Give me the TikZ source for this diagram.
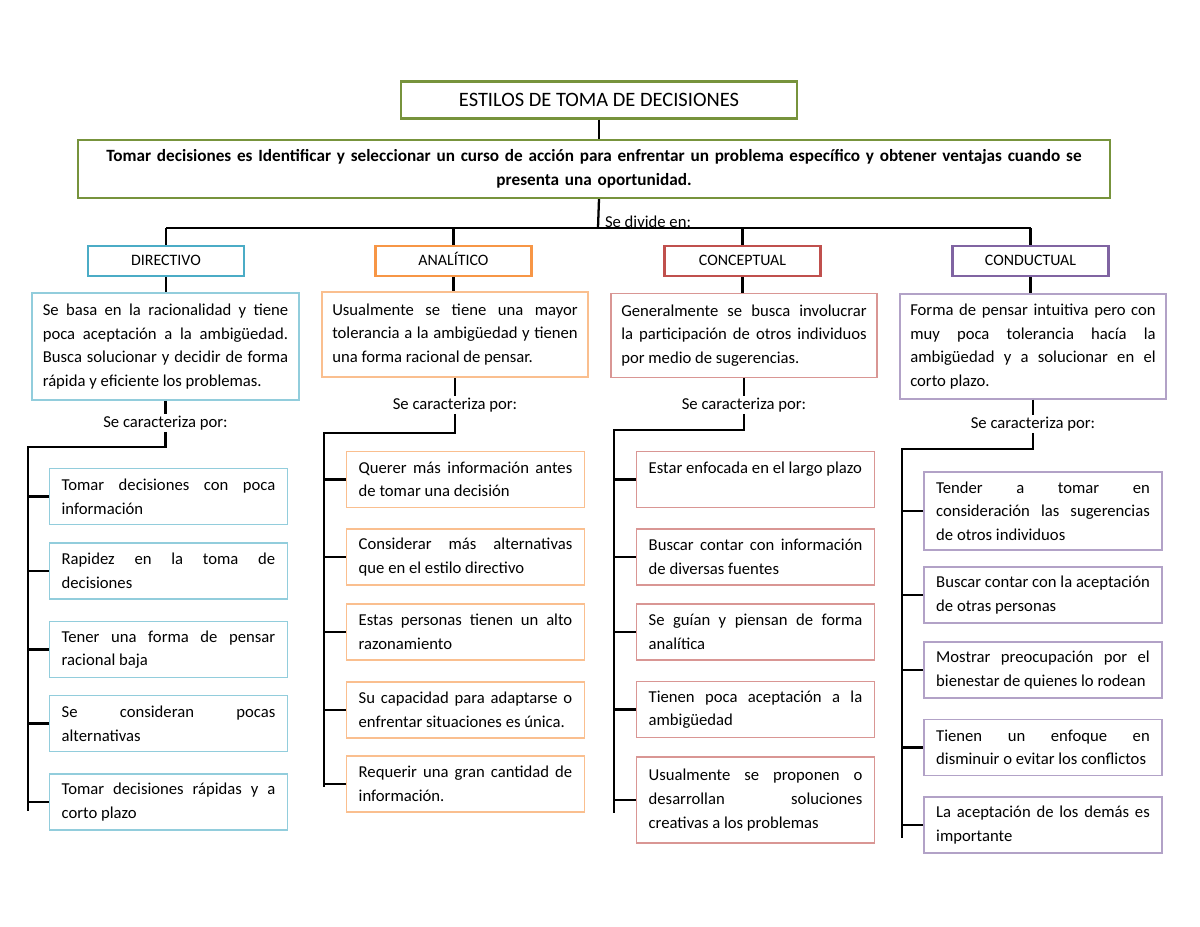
\documentclass[tikz,border=0pt]{standalone}
\usepackage{fontspec}
\setmainfont{Carlito}
\usepackage{tikz}
\usetikzlibrary{positioning,calc}
\definecolor{titlegreen}{RGB}{119,147,60}
\definecolor{dircyan}{RGB}{75,172,198}
\definecolor{anaorange}{RGB}{247,150,70}
\definecolor{conred}{RGB}{192,80,77}
\definecolor{condpurple}{RGB}{128,100,162}
\definecolor{dirlight}{RGB}{146,205,220}
\definecolor{analight}{RGB}{250,191,143}
\definecolor{conlight}{RGB}{217,150,148}
\definecolor{condlight}{RGB}{178,162,199}
\newcommand{\boxtxt}{\fontsize{11}{15.6}\selectfont\hyphenpenalty=10000\tolerance=10000\hbadness=10000}
\tikzset{
  head/.style={draw=titlegreen, line width=1.4pt, minimum width=261pt, minimum height=24.4pt,
               font=\fontsize{13.5}{15}\selectfont},
  intro/.style={draw=titlegreen, line width=1.4pt, minimum width=681pt, minimum height=38.3pt,
                text width=670pt, align=center, font=\bfseries\fontsize{11.35}{15.8}\selectfont},
  catbox/.style={draw=#1, line width=1.4pt, minimum width=103pt, minimum height=20pt,
                 text height=7pt, text depth=1.5pt, font=\fontsize{10.5}{12}\selectfont},
  descbox/.style={draw=#1, line width=1.2pt, text width=162pt, inner xsep=7pt,
                  align=justify, font=\boxtxt},
  itembox/.style={draw=#1, line width=1.2pt, text width=141pt, inner xsep=8pt,
                  minimum height=37pt, align=justify, font=\boxtxt},
  lbl/.style={font=\boxtxt, inner sep=1pt},
  conn/.style={line width=1.5pt, black}
}
\begin{document}
\begin{tikzpicture}[x=0.66pt, y=-0.66pt]
  \useasboundingbox (0,0) rectangle (1200,927);
  % cabecera
  \node[head] (head) at (599,100) {ESTILOS DE TOMA DE DECISIONES};
  \node[intro] (intro) at (594,169) {Tomar decisiones es Identificar y seleccionar un curso de acción para enfrentar un problema específico y obtener ventajas cuando se\\ presenta una oportunidad.};
  \coordinate (bar) at (598,228);
  \draw[conn] (head) -- (head |- intro.north);
  \draw[conn] (head |- intro.south) -- (bar);
  \node[lbl] (divide) at (648,222) {Se divide en:};

  % estilos
  \node[catbox=dircyan] (dircat) at (166,261) {DIRECTIVO};
  \node[catbox=anaorange] (anacat) at (453.5,261) {ANALÍTICO};
  \node[catbox=conred] (concat) at (742.5,261) {CONCEPTUAL};
  \node[catbox=condpurple] (condcat) at (1030.5,261) {CONDUCTUAL};
  \draw[conn] (dircat |- bar) -- (condcat |- bar);
  \foreach \c in {dircat,anacat,concat,condcat}
    \draw[conn] (\c |- bar) -- (\c);

  % descripciones
  \node[descbox=dirlight, minimum height=70.6pt] (dirdesc) at (165.5,346.5) {Se basa en la racionalidad y tiene\linebreak poca aceptación a la ambigüedad.\linebreak Busca solucionar y decidir de forma\linebreak rápida y eficiente los problemas.};
  \node[descbox=analight, minimum height=56pt] (anadesc) at (455,334.5) {Usualmente se tiene una mayor\linebreak tolerancia a la ambigüedad y tienen\linebreak una forma racional de pensar.};
  \node[descbox=conlight, minimum height=55.4pt] (condesc) at (744,335.5) {Generalmente se busca involucrar\linebreak la participación de otros individuos\linebreak por medio de sugerencias.};
  \node[descbox=condlight, minimum height=69pt] (conddesc) at (1033,346.5) {Forma de pensar intuitiva pero con\linebreak muy poca tolerancia hacía la\linebreak ambigüedad y a solucionar en el\linebreak corto plazo.};
  \draw[conn] (dircat) -- (dircat |- dirdesc.north);
  \draw[conn] (anacat) -- (anacat |- anadesc.north);
  \draw[conn] (concat) -- (concat |- condesc.north);
  \draw[conn] (condcat) -- (condcat |- conddesc.north);

  \node[lbl] (dirlbl) at (165.5,423) {Se caracteriza por:};
  \node[lbl] (analbl) at (455,405) {Se caracteriza por:};
  \node[lbl] (conlbl) at (744,405) {Se caracteriza por:};
  \node[lbl] (condlbl) at (1033,424) {Se caracteriza por:};

  % DIRECTIVO
  \node[itembox=dirlight] (dir1) at (168.5,496.5) {Tomar decisiones con poca\linebreak información};
  \node[itembox=dirlight] (dir2) at (168.5,571) {Rapidez en la toma de\linebreak decisiones};
  \node[itembox=dirlight] (dir3) at (168.5,649.5) {Tener una forma de pensar\linebreak racional baja};
  \node[itembox=dirlight] (dir4) at (168.5,723.5) {Se consideran pocas\linebreak alternativas};
  \node[itembox=dirlight] (dir5) at (168.5,802) {Tomar decisiones rápidas y a\linebreak corto plazo};

  % ANALITICO
  \node[itembox=analight] (ana1) at (465.5,479.5) {Querer más información antes\linebreak de tomar una decisión};
  \node[itembox=analight] (ana2) at (465.5,557) {Considerar más alternativas\linebreak que en el estilo directivo};
  \node[itembox=analight] (ana3) at (465.5,632) {Estas personas tienen un alto\linebreak razonamiento};
  \node[itembox=analight] (ana4) at (465.5,710) {Su capacidad para adaptarse o\linebreak enfrentar situaciones es única.};
  \node[itembox=analight] (ana5) at (465.5,784) {Requerir una gran cantidad de\linebreak información.};

  % CONCEPTUAL
  \node[itembox=conlight] (con1) at (755.5,479.5) {Estar enfocada en el largo plazo\\ ~};
  \node[itembox=conlight] (con2) at (755.5,557) {Buscar contar con información\linebreak de diversas fuentes};
  \node[itembox=conlight] (con3) at (755.5,632) {Se guían y piensan de forma\linebreak analítica};
  \node[itembox=conlight] (con4) at (755.5,709.5) {Tienen poca aceptación a la\linebreak ambigüedad};
  \node[itembox=conlight, minimum height=56.8pt] (con5) at (755.5,800) {Usualmente se proponen o\linebreak desarrollan soluciones\linebreak creativas a los problemas};

  % CONDUCTUAL
  \node[itembox=condlight, minimum height=51.5pt] (cond1) at (1043,511) {Tender a tomar en\linebreak consideración las sugerencias\linebreak de otros individuos};
  \node[itembox=condlight] (cond2) at (1043,595) {Buscar contar con la aceptación\linebreak de otras personas};
  \node[itembox=condlight] (cond3) at (1043,670) {Mostrar preocupación por el\linebreak bienestar de quienes lo rodean};
  \node[itembox=condlight] (cond4) at (1043,747.5) {Tienen un enfoque en\linebreak disminuir o evitar los conflictos};
  \node[itembox=condlight] (cond5) at (1043,825) {La aceptación de los demás es\linebreak importante};

  % lineas
  \coordinate (dirtop) at (28,447);   \coordinate (dirend) at (28,811);
  \coordinate (anatop) at (324,433);  \coordinate (anaend) at (324,787);
  \coordinate (contop) at (614,430);  \coordinate (conend) at (614,813);
  \coordinate (condtop) at (902,449); \coordinate (condend) at (902,838);
  \foreach \s in {dir,ana,con,cond} {
    \draw[conn] (\s desc) -- (\s lbl);
    \draw[conn] (\s lbl) |- (\s top) -- (\s end);
    \foreach \i in {1,...,5}
      \draw[conn] (\s\i) -- (\s\i -| \s top);
  }
\end{tikzpicture}
\end{document}
